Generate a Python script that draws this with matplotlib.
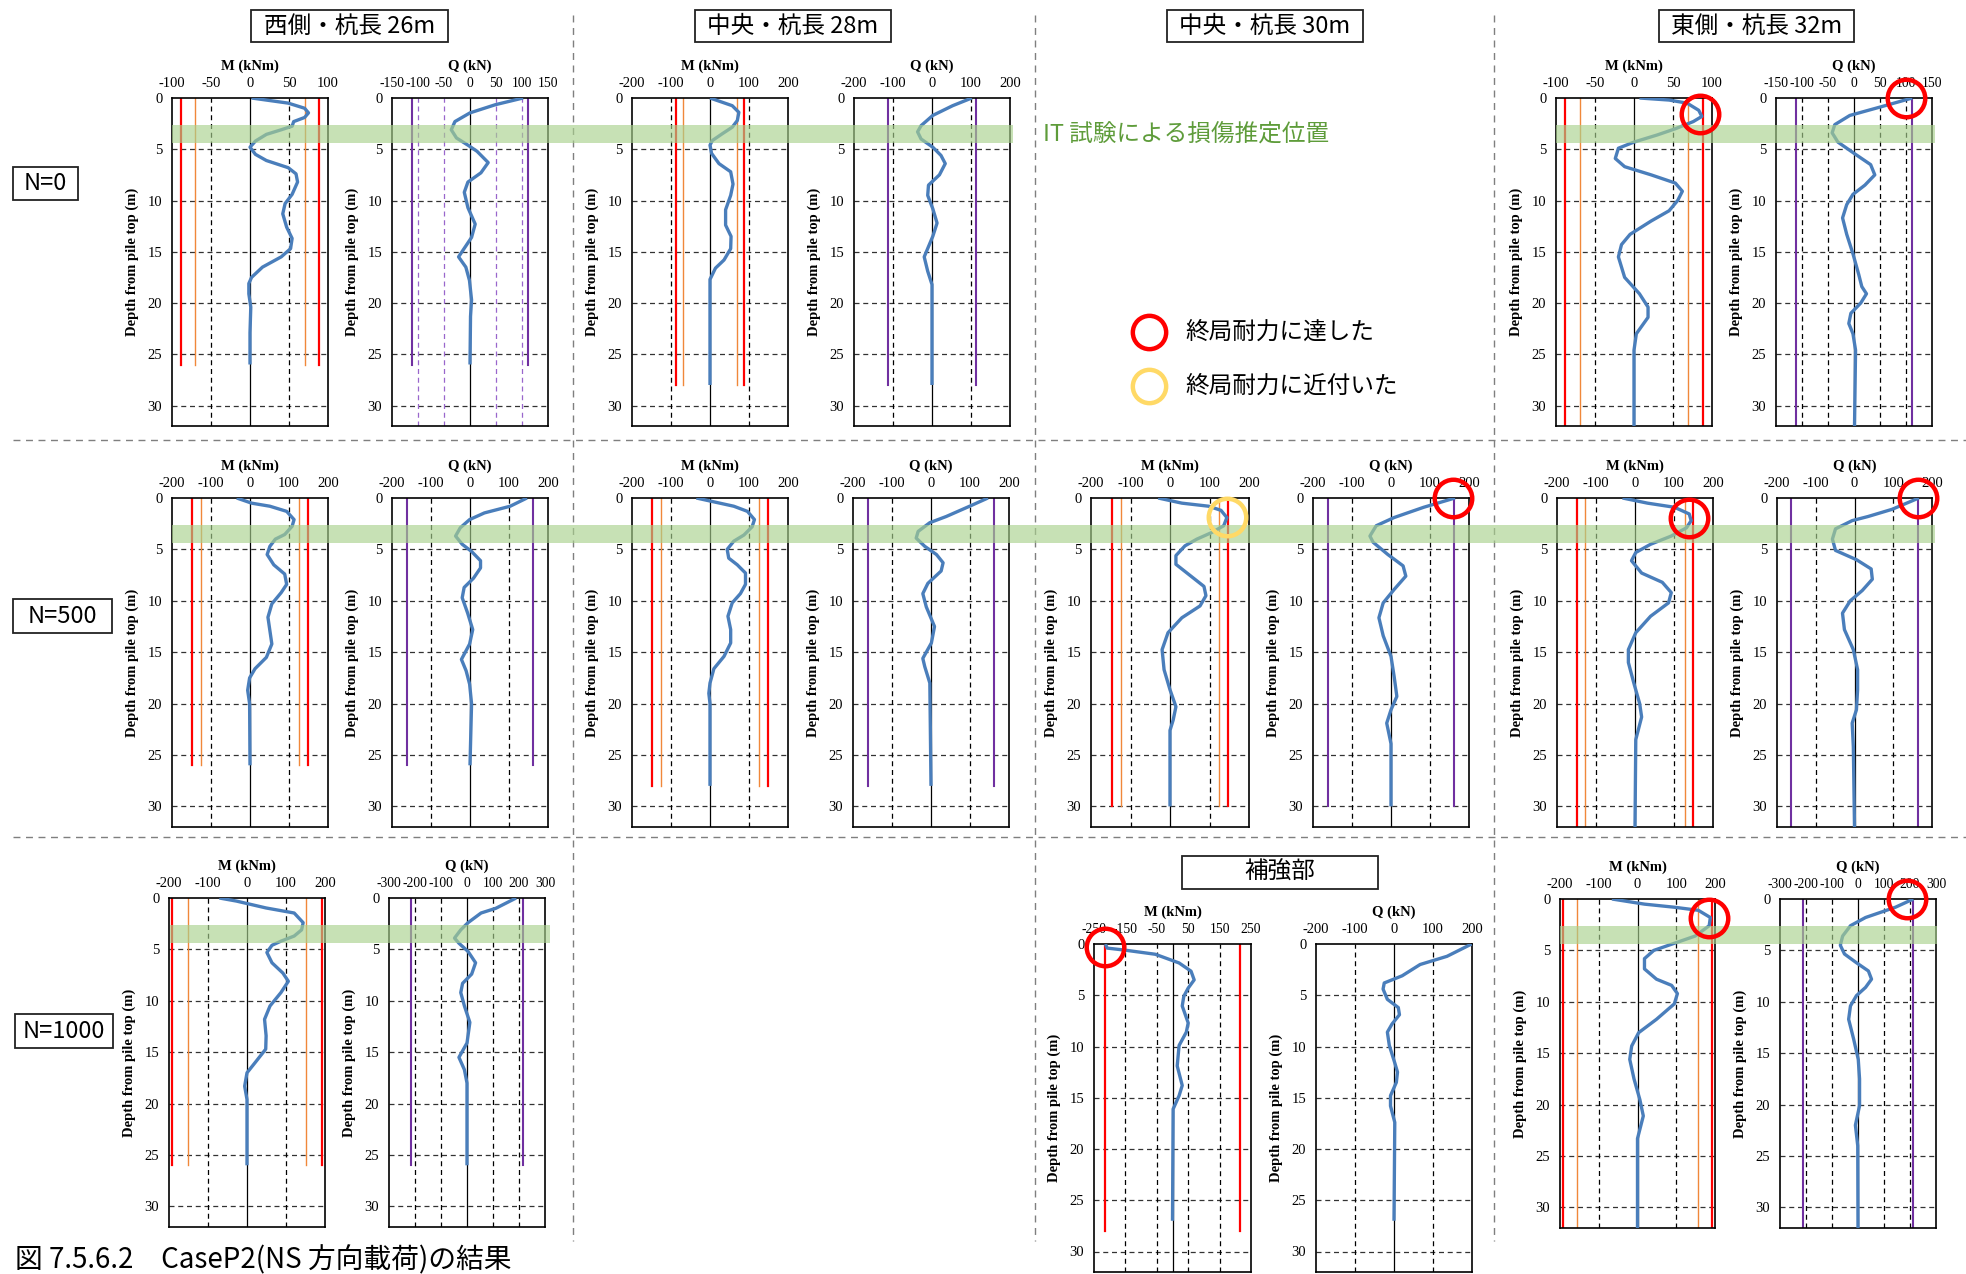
import matplotlib
matplotlib.use('Agg')
import matplotlib.pyplot as plt
from matplotlib.patches import Rectangle
from matplotlib.lines import Line2D

plt.rcParams['font.family'] = ['Liberation Serif', 'DejaVu Serif']
plt.rcParams['axes.unicode_minus'] = False

W, H = 1966, 1274
fig = plt.figure(figsize=(W / 100, H / 100), dpi=100)

JP = ['Noto Sans CJK JP', 'DejaVu Sans']
SERIF = ['Liberation Serif', 'DejaVu Serif']
BLUE = '#4a7ebb'
RED = '#ff0000'
ORANGE = '#f0883a'
PURPLE = '#7030a0'
YELLOW = '#ffd966'
GREEN_TXT = '#5e9c3a'

# ---------------- data (depth m, value) ----------------
BAND = (2.6, 4.4)   # IT test estimated damage depth

# N=0
n0_w_m_d = [0, 0.5, 1.0, 1.45, 1.9, 2.3, 2.75, 3.1, 3.55, 4.2, 4.8, 5.5, 6.1, 6.8, 7.4, 8.2, 9.4, 10.3, 11.3, 12.6, 13.7, 14.7, 15.5, 16.5, 17.5, 18.1, 19.1, 20.4, 22.9, 26]
n0_w_m = [2, 49, 70, 75, 70, 56, 54, 40, 21, 7, 0, 7, 21, 49, 59, 61, 54, 45, 42, 47, 54, 52, 40, 16, 2, -1.5, -1.5, 1, 0, 0]
n0_w_q_d = [0, 0.65, 1.45, 2.3, 3.1, 3.9, 4.6, 5.2, 6.3, 7.3, 8.2, 9.2, 10.7, 12.3, 13.6, 15.5, 16.5, 17.8, 19.7, 21.3, 26]
n0_w_q = [102, 49, 0, -29, -36, -26, -4, 13.5, 35, 21, -4, -11, -4, 10, 3, -22, -8, -1, 3, 1, 0]
n0_c_m_d = [0, 0.75, 1.4, 2.2, 2.85, 3.5, 4.15, 4.6, 5.4, 6.4, 7.2, 8.4, 9.5, 10.9, 12.4, 13.5, 14.7, 15.8, 16.6, 17.7, 28]
n0_c_m = [0, 57, 74, 70, 57, 31, 6, 0, 4, 23, 53, 59, 53, 40, 40, 54, 53, 36, 14, 0, 0]
n0_c_q_d = [0, 0.75, 1.7, 2.7, 3.3, 4.0, 4.8, 5.6, 6.4, 7.5, 8.5, 9.5, 10.8, 12.2, 13.5, 15.5, 16.9, 18.2, 28]
n0_c_q = [102, 53, 2, -28, -37, -28, 2, 23, 34, 19, -9, -11, 2, 13, 2, -20, -11, 0, 0]
n0_e_m_d = [0, 0.2, 0.5, 1.2, 1.8, 2.3, 3.0, 3.6, 4.3, 4.9, 5.9, 6.7, 7.5, 8.3, 9.1, 10, 11, 12, 13.3, 14.3, 15.5, 17.5, 19.1, 20.4, 21.4, 23, 24.6, 32]
n0_e_m = [7, 45, 68, 83, 87, 76, 53, 30, 0, -20, -24, -12, 22, 53, 62, 56, 45, 22, -5, -16, -20, -12, 7, 18, 18, 3, 0, 0]
n0_e_q_d = [0, 0.9, 1.7, 2.6, 3.4, 4.3, 5.5, 6.5, 7.5, 8.5, 9.4, 10.4, 11.7, 13.3, 15.2, 17.2, 18.4, 19.1, 20, 21, 22, 23, 24.6, 32]
n0_e_q = [112, 49, -8, -37, -42, -31, 3, 32, 40, 21, -2, -14, -22, -14, -2, 9, 15, 24, 13, -6, -10, -2, 3, 1]

# N=500
n500_w_m_d = [0, 0.5, 0.8, 1.3, 2.1, 2.75, 3.55, 4.0, 4.7, 5.5, 6.5, 7.4, 8.4, 9.2, 10.3, 11.6, 12.9, 14.2, 15.5, 16.6, 17.5, 18.7, 20, 26]
n500_w_m = [-34, 4, 51, 94, 113, 108, 89, 65, 51, 44, 61, 89, 94, 80, 56, 46, 51, 56, 42, 13, -1, -6, -1, 0]
n500_w_q_d = [0, 0.8, 1.45, 2.1, 2.9, 3.7, 4.5, 5.2, 6.1, 6.8, 7.8, 8.7, 9.7, 11.2, 12.8, 14.2, 15.7, 16.8, 18.1, 20, 26]
n500_w_q = [146, 103, 37, -1, -25, -37, -20, 4, 27, 27, 9, -15, -20, -6, 7, -1, -22, -10, -1, 4, 0]
n500_c28_m_d = [0, 0.3, 0.8, 1.3, 2.1, 2.8, 3.6, 4.2, 5.0, 5.85, 6.5, 7.3, 8.4, 9.3, 10.2, 11.5, 12.8, 14.1, 15.4, 16.6, 18, 19, 20, 28]
n500_c28_m = [-35, 1, 61, 96, 114, 108, 87, 61, 44, 48, 70, 91, 91, 78, 57, 46, 53, 53, 36, 10, 0, -3, 0, 0]
n500_c28_q_d = [0, 0.8, 1.8, 2.4, 3.25, 3.9, 4.7, 5.5, 6.3, 7.1, 8.3, 9.3, 10.6, 12.5, 14.1, 15.6, 16.4, 18, 28]
n500_c28_q = [146, 99, 39, -3, -33, -38, -16, 14, 31, 26, -8, -21, -12, 9, 1, -21, -16, -3, 0]
n500_c30_m_d = [0, 0.5, 0.8, 1.2, 1.9, 2.7, 3.35, 4.0, 4.65, 5.6, 6.45, 7.6, 8.6, 9.5, 10.5, 11.65, 13.1, 14.75, 16.7, 18.65, 20.3, 21.6, 22.6, 30]
n500_c30_m = [-30, 30, 98, 129, 144, 136, 106, 68, 38, 15, 15, 53, 86, 91, 76, 30, -5, -20, -15, 0, 15, 8, 0, 0]
n500_c30_q_d = [0, 0.9, 1.9, 2.7, 3.7, 4.3, 5.5, 6.6, 7.6, 8.9, 10.2, 11.65, 13.4, 15.4, 17.35, 19.3, 20.6, 21.9, 23.9, 30]
n500_c30_q = [164, 84, 8, -38, -54, -46, -8, 31, 38, 8, -20, -31, -20, 0, 8, 15, 0, -11, 0, 0]
n500_e_m_d = [0, 0.5, 0.9, 1.55, 2.2, 2.9, 3.7, 4.5, 5.3, 6.1, 7.3, 8.2, 9.2, 10.2, 11.5, 13.1, 14.75, 16, 18, 20, 21.3, 23.5, 32]
n500_e_m = [-32, 32, 101, 139, 144, 132, 93, 40, 2, -9, 17, 70, 93, 86, 40, 2, -17, -17, -3, 12, 17, 2, 0]
n500_e_q_d = [0, 1.1, 1.8, 2.2, 3.0, 4.0, 5.1, 6.0, 6.9, 7.9, 9.0, 10, 11.2, 12.8, 14.75, 16.7, 18.65, 20.6, 21.9, 24.2, 32]
n500_e_q = [166, 97, 35, -6, -49, -57, -49, 5, 43, 46, 20, -11, -31, -26, -3, 8, 8, 5, -6, -3, 0]

# N=1000
n1000_w_m_d = [0, 0.3, 0.97, 1.46, 2.4, 3.1, 3.7, 4.2, 4.6, 5.3, 6.3, 7.3, 8.1, 9.2, 10.5, 11.8, 13.4, 14.7, 16, 17, 18.3, 19.6, 26]
n1000_w_m = [-71, -27, 49, 121, 144, 140, 121, 87, 64, 51, 64, 92, 106, 87, 59, 45, 49, 48, 21, 0, -6, 0, 0]
n1000_w_q_d = [0, 1.0, 1.46, 2.4, 3.1, 3.9, 4.4, 5.2, 6.3, 7.4, 8.3, 9.2, 10.5, 12.1, 14.1, 15.5, 16.7, 18, 26]
n1000_w_q = [189, 111, 54, 4, -24, -48, -31, 4, 33, 18, -17, -24, -10, 11, 0, -31, -10, 0, 0]
ref_m_d = [0, 0.4, 0.6, 1.0, 1.85, 2.65, 3.5, 4.3, 5.1, 6.05, 7.7, 8.6, 9.9, 11.9, 13.8, 14.8, 16.1, 27]
ref_m = [-214, -208, -151, -55, 21, 59, 69, 50, 36, 31, 50, 44, 21, 15, 31, 21, 2, 0]
ref_q_d = [0, 1.2, 2.0, 3.1, 3.8, 4.4, 5.4, 6.2, 6.9, 7.8, 8.6, 9.9, 11.6, 12.5, 13.5, 14.8, 15.8, 17.4, 27]
ref_q = [199, 136, 67, 21, -25, -28, -17, 11, 14, -5, -17, -12, 2, 9, 6, -9, -9, 2, 0]
n1000_e_m_d = [0, 0.5, 0.8, 1.1, 1.8, 2.6, 3.6, 4.4, 5.0, 5.8, 6.8, 7.8, 8.4, 9.2, 10.2, 11.7, 13, 14.3, 15.6, 17.5, 19.5, 21.1, 23.3, 32]
n1000_e_m = [-66, 18, 95, 157, 188, 185, 149, 88, 42, 18, 18, 49, 88, 103, 95, 49, 3, -15, -20, -9, 6, 15, 0, 0]
n1000_e_q_d = [0, 0.8, 1.8, 2.6, 3.6, 4.5, 5.35, 6.2, 7.0, 7.8, 8.6, 9.4, 10.4, 11.7, 13.6, 15.6, 17.5, 20.1, 22, 24, 32]
n1000_e_q = [213, 144, 29, -29, -59, -68, -52, -6, 40, 52, 29, -6, -29, -36, -17, 1, 6, 6, -10, -1, 0]

# capacity lines (±value)
cap_red = {'n0': 88, 'n500': 148, 'n1000': 192, 'ref': 215}
cap_orange = {'n0': 69, 'n500': 125, 'n1000': 154}
cap_purple = {'n0': 112, 'n500': 162, 'n1000': 213}

col_titles = ['西側・杭長 26m', '中央・杭長 28m', '中央・杭長 30m', '東側・杭長 32m']
row_titles = ['N=0', 'N=500', 'N=1000']

# ---------------- helpers ----------------
def px_axes(l, r, t, b):
    return fig.add_axes([l / W, 1 - b / H, (r - l) / W, (b - t) / H])


def panel(box, kind, xlim, ticks, d, v, L, red=None, orange=None, purple=None,
          Lred=None, vgrid='black', tfs=10.5):
    ax = px_axes(*box)
    ax.set_xlim(*xlim)
    ax.set_ylim(32, 0)
    ax.set_xticks(ticks)
    ax.set_xticklabels([str(t) for t in ticks], fontsize=tfs, fontfamily=SERIF)
    ax.set_yticks(range(0, 31, 5))
    ax.set_yticklabels([str(t) for t in range(0, 31, 5)], fontsize=10.5, fontfamily=SERIF)
    ax.xaxis.tick_top()
    ax.xaxis.set_label_position('top')
    ax.tick_params(axis='x', length=0, pad=6)
    ax.tick_params(axis='y', length=0, pad=7)
    ax.set_xlabel('M (kNm)' if kind == 'M' else 'Q (kN)', fontfamily=SERIF,
                  fontweight='bold', fontsize=10.5, labelpad=5)
    ax.set_ylabel('Depth from pile top (m)', fontfamily=SERIF,
                  fontweight='bold', fontsize=10.5, labelpad=6)
    for s in ax.spines.values():
        s.set_linewidth(1.2)
    for y in range(5, 31, 5):
        ax.axhline(y, color='#333333', ls=(0, (4, 3)), lw=0.9, zorder=1)
    for x in ticks:
        if xlim[0] < x < xlim[1] and x != 0:
            ax.axvline(x, color=vgrid, ls=(0, (4, 3)), lw=0.9, zorder=1)
    ax.axvline(0, color='black', lw=0.9, zorder=1)
    Lr = Lred if Lred is not None else L
    if orange is not None:
        for s in (-1, 1):
            ax.plot([s * orange, s * orange], [0, Lr], color=ORANGE, lw=1.0, zorder=2)
    if red is not None:
        for s in (-1, 1):
            ax.plot([s * red, s * red], [0, Lr], color=RED, lw=1.6, zorder=2)
    if purple is not None:
        for s in (-1, 1):
            ax.plot([s * purple, s * purple], [0, Lr], color=PURPLE, lw=1.5, zorder=2)
    ax.plot(v, d, color=BLUE, lw=2.4, zorder=3, solid_joinstyle='round',
            solid_capstyle='butt')
    return ax


def band(ax, x0, x1):
    inv = fig.transFigure.inverted()
    _, y0 = inv.transform(ax.transData.transform((0, BAND[0])))
    _, y1 = inv.transform(ax.transData.transform((0, BAND[1])))
    fig.add_artist(Rectangle((x0 / W, y1), (x1 - x0) / W, y0 - y1,
                             transform=fig.transFigure, facecolor='#a9d18e',
                             edgecolor='none', alpha=0.65, zorder=10))


def circle(ax, x, d, color):
    ln = Line2D([x], [d], marker='o', ms=27, mfc='none', mec=color, mew=3.2,
                transform=ax.transData, zorder=20, clip_on=False)
    fig.add_artist(ln)


def box_text(l, r, t, b, s, fs):
    fig.add_artist(Rectangle((l / W, 1 - b / H), (r - l) / W, (b - t) / H,
                             transform=fig.transFigure, facecolor='white',
                             edgecolor='#222222', lw=1.3, zorder=5))
    fig.text((l + r) / 2 / W, 1 - (t + b) / 2 / H, s, ha='center', va='center',
             fontsize=fs, fontfamily=JP, zorder=6)

# ---------------- panels ----------------
T1, B1 = 98, 426
T2, B2 = 498, 827
T3, B3 = 898, 1227

m100 = [-100, -50, 0, 50, 100]
q150 = [-150, -100, -50, 0, 50, 100, 150]
t200 = [-200, -100, 0, 100, 200]
q300 = [-300, -200, -100, 0, 100, 200, 300]
t250 = [-250, -150, -50, 50, 150, 250]

# Row N=0
n0w_m_ax = panel((172, 328, T1, B1), 'M', (-100, 100), m100, n0_w_m_d, n0_w_m, 26, red=cap_red['n0'], orange=70)
panel((392, 548, T1, B1), 'Q', (-150, 150), q150, n0_w_q_d, n0_w_q, 26, purple=cap_purple['n0'], vgrid='#9966cc', tfs=9.8)
panel((632, 788, T1, B1), 'M', (-200, 200), t200, n0_c_m_d, n0_c_m, 28, red=cap_red['n0'], orange=68)
panel((854, 1010, T1, B1), 'Q', (-200, 200), t200, n0_c_q_d, n0_c_q, 28, purple=cap_purple['n0'])
n0e_m_ax = panel((1556, 1712, T1, B1), 'M', (-100, 100), m100, n0_e_m_d, n0_e_m, 32, red=cap_red['n0'], orange=cap_orange['n0'])
n0e_q_ax = panel((1776, 1932, T1, B1), 'Q', (-150, 150), q150, n0_e_q_d, n0_e_q, 32, purple=cap_purple['n0'], tfs=9.8)

# Row N=500
n500w_m_ax = panel((172, 328, T2, B2), 'M', (-200, 200), t200, n500_w_m_d, n500_w_m, 26, red=cap_red['n500'], orange=cap_orange['n500'])
panel((392, 548, T2, B2), 'Q', (-200, 200), t200, n500_w_q_d, n500_w_q, 26, purple=cap_purple['n500'])
panel((632, 788, T2, B2), 'M', (-200, 200), t200, n500_c28_m_d, n500_c28_m, 28, red=cap_red['n500'], orange=cap_orange['n500'])
panel((853, 1009, T2, B2), 'Q', (-200, 200), t200, n500_c28_q_d, n500_c28_q, 28, purple=cap_purple['n500'])
c30m = panel((1091, 1249, T2, B2), 'M', (-200, 200), t200, n500_c30_m_d, n500_c30_m, 30, red=cap_red['n500'], orange=cap_orange['n500'])
c30q = panel((1313, 1469, T2, B2), 'Q', (-200, 200), t200, n500_c30_q_d, n500_c30_q, 30, purple=cap_purple['n500'])
e5m = panel((1557, 1713, T2, B2), 'M', (-200, 200), t200, n500_e_m_d, n500_e_m, 32, red=cap_red['n500'], orange=127)
e5q = panel((1777, 1932, T2, B2), 'Q', (-200, 200), t200, n500_e_q_d, n500_e_q, 32, purple=164)

# Row N=1000
w10m = panel((169, 325, T3, B3), 'M', (-200, 200), t200, n1000_w_m_d, n1000_w_m, 26, red=cap_red['n1000'], orange=152)
panel((389, 545, T3, B3), 'Q', (-300, 300), q300, n1000_w_q_d, n1000_w_q, 26, purple=215, tfs=9.8)
refm = panel((1094, 1251, 944, 1272), 'M', (-250, 250), t250, ref_m_d, ref_m, 27, red=cap_red['ref'], Lred=28, tfs=9.8)
panel((1316, 1472, 944, 1272), 'Q', (-200, 200), t200, ref_q_d, ref_q, 27)
e10m = panel((1560, 1715, 899, 1228), 'M', (-200, 200), t200, n1000_e_m_d, n1000_e_m, 32, red=cap_red['n1000'], orange=155)
e10q = panel((1780, 1936, 899, 1228), 'Q', (-300, 300), q300, n1000_e_q_d, n1000_e_q, 32, purple=211, tfs=9.8)

# ---------------- IT-test band ----------------
band(n0w_m_ax, 172, 1013)
band(n0e_m_ax, 1556, 1935)
band(n500w_m_ax, 172, 1935)
band(w10m, 170, 550)
band(e10m, 1560, 1937)

# ---------------- circles ----------------
circle(n0e_m_ax, 85, 1.6, RED)
circle(n0e_q_ax, 100, 0, RED)
circle(c30m, 144, 1.85, YELLOW)
circle(c30q, 159, 0, RED)
circle(e5m, 138, 1.95, RED)
circle(e5q, 164, 0, RED)
circle(refm, -215, 0.3, RED)
circle(e10m, 184, 1.85, RED)
circle(e10q, 188, 0, RED)

# ---------------- separators ----------------
for x in (573, 1035, 1494):
    fig.add_artist(Line2D([x / W, x / W], [1 - 15 / H, 1 - 1241 / H], color='#7f7f7f',
                          lw=1.0, ls=(0, (5, 4)), transform=fig.transFigure, zorder=1))
for y in (440, 837):
    fig.add_artist(Line2D([13 / W, 1.0], [1 - y / H, 1 - y / H], color='#7f7f7f',
                          lw=1.0, ls=(0, (5, 4)), transform=fig.transFigure, zorder=1))

# ---------------- titles ----------------
box_text(251, 448, 10, 42, col_titles[0], 17)
box_text(695, 891, 10, 42, col_titles[1], 17)
box_text(1167, 1363, 10, 42, col_titles[2], 17)
box_text(1659, 1854, 10, 42, col_titles[3], 17)
box_text(1182, 1378, 856, 889, '補強部', 17)
box_text(13, 78, 167, 200, row_titles[0], 17)
box_text(13, 112, 599, 633, row_titles[1], 17)
box_text(15, 113, 1014, 1048, row_titles[2], 17)

fig.text(1043 / W, 1 - 134 / H, 'IT 試験による損傷推定位置', ha='left', va='center',
         fontsize=17, color=GREEN_TXT, fontfamily=JP)

# legend
for yy, col, lab in ((332, RED, '終局耐力に達した'), (386, YELLOW, '終局耐力に近付いた')):
    fig.add_artist(Line2D([1149 / W], [1 - yy / H], marker='o', ms=24, mfc='none', mec=col,
                          mew=3.2, transform=fig.transFigure, zorder=20))
    fig.text(1185 / W, 1 - yy / H, lab, ha='left', va='center', fontsize=17,
             fontfamily=JP)

fig.text(15 / W, 1 - 1245 / H, '図 7.5.6.2　CaseP2(NS 方向載荷)の結果', ha='left', va='top',
         fontsize=20, fontfamily=JP)

fig.savefig('out.png', dpi=100, facecolor='white')
